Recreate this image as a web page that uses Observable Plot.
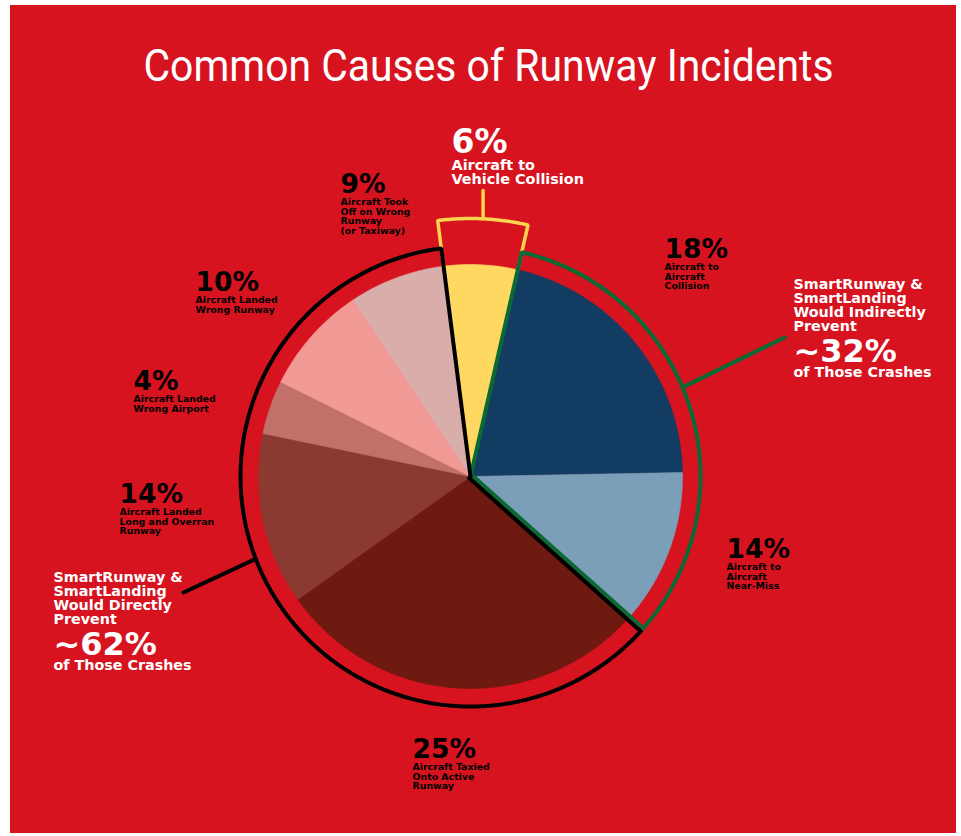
<!DOCTYPE html>
<html><head><meta charset="utf-8">
<script src="https://cdn.jsdelivr.net/npm/d3@7"></script>
<script src="https://cdn.jsdelivr.net/npm/@observablehq/plot@0.6"></script>
<style>
html,body{margin:0;padding:0;background:#fff;width:961px;height:836px;overflow:hidden}
#card{position:absolute;left:10px;top:5px;width:946px;height:828px;background:#D6131F}
#chart{position:absolute;left:0;top:0}
</style></head><body><div id="card"></div><div id="chart"></div>
<script>
// ---- data ----
const causes = ["Aircraft to Vehicle Collision","Aircraft to Aircraft Collision","Aircraft to Aircraft Near-Miss","Aircraft Taxied Onto Active Runway","Aircraft Landed Long and Overran Runway","Aircraft Landed Wrong Airport","Aircraft Landed Wrong Runway","Aircraft Took Off on Wrong Runway (or Taxiway)"];
const labelPercents = [6, 18, 14, 25, 14, 4, 10, 9];
const sliceShares = [5.6, 21.1, 11.9, 28.5, 13.1, 4.1, 8.3, 7.3]; // slice sizes as drawn in the picture
const labelLines = [["Aircraft to","Vehicle Collision"],["Aircraft to","Aircraft","Collision"],["Aircraft to","Aircraft","Near-Miss"],["Aircraft Taxied","Onto Active","Runway"],["Aircraft Landed","Long and Overran","Runway"],["Aircraft Landed","Wrong Airport"],["Aircraft Landed","Wrong Runway"],["Aircraft Took","Off on Wrong","Runway","(or Taxiway)"]];
const groupNames = ["Indirectly","Directly"];
const groupShares = [32, 62];
const titleText = "Common Causes of Runway Incidents";

// ---- style / layout ----
const sliceColors = ["#FFD862","#123C61","#7B9EB9","#6F1A10","#8A3A31","#C1716A","#F29A96","#D9ADAA"];
const WHITE="#fff", BLACK="#000", GREEN="#0B6A34", YEL="#FCD34D";
const CX=470, CY=476, R=212;
const ux = px => (px - CX)/R, uy = py => (CY - py)/R;
const rad = d => d*Math.PI/180;
const pol = (r, deg) => ({x: r*Math.sin(rad(deg)), y: r*Math.cos(rad(deg))});
const arc = (r, a0, a1, step=0.5) => { const n=Math.max(2,Math.ceil(Math.abs(a1-a0)/step)); return d3.range(n+1).map(i=>pol(r, a0+(a1-a0)*i/n)); };
const START = -7.3;
const labelPos = [[451,152],[664,257],[726,557],[412,757],[119,502],[133,389],[195,290],[340,192]];
const calloutPos = [[793,289],[53,582]];
const FONT = "'DejaVu Sans', Verdana, sans-serif";

// ---- geometry from data ----
const pie = d3.pie().sort(null).value(d=>d).startAngle(rad(START)).endAngle(rad(360+START))(sliceShares);
const deg = a => a*180/Math.PI;
const slicePts = pie.flatMap((p,i)=>[{x:0,y:0}, ...arc(1, deg(p.startAngle), deg(p.endAngle)), {x:0,y:0}].map(q=>({...q, name:causes[i]})));
const A = pie.map(p=>[deg(p.startAngle), deg(p.endAngle)]);
const aYelL = A[0][0], aYelR = A[0][1], aSplit = A[2][1];
const RING = 230/R, OUT = 258/R;
const off = (r, a, d) => { const p = pol(r,a), t = rad(a); return {x: p.x + d*Math.cos(t), y: p.y - d*Math.sin(t)}; };
const dOff = 2/R;
const greenPath = [off(0,aYelR,0), pol(RING,aYelR), ...arc(RING,aYelR,aSplit), off(RING,aSplit,-dOff), off(0,aSplit,-dOff)];
const blackPath = [off(0,aSplit,dOff), off(RING,aSplit,dOff), ...arc(RING,aSplit,aYelL+360), pol(0,aYelL)];
const yelPath = [pol(1,aYelL), pol(OUT,aYelL), ...arc(OUT,aYelL,aYelR), pol(OUT,aYelR), pol(1,aYelR)];
const midYel = (aYelL+aYelR)/2;
const stick = [pol(OUT,midYel), {x: pol(OUT,midYel).x, y: uy(190)}];
const leaderG = [pol(RING, 67.2), {x: ux(784), y: uy(337)}];
const leaderB = [pol(RING, 249), {x: ux(183), y: uy(592)}];

// text blocks: y given as first-line baseline, converted to a top anchor
const rows = [];
const addRow = (text, px, base, size, lh, color) => rows.push({text, x: ux(px), y: uy(base - 0.71*size), size, lh, color});
labelPercents.forEach((v,i)=>{
  const [px,base]=labelPos[i];
  if (i===0) {
    addRow(v+"%", px, base, 33, 1, WHITE);
    addRow(labelLines[i].join("\n"), px, base+17.5, 14.4, 1.0, WHITE);
  } else {
    addRow(v+"%", px, base, 26.5, 1, BLACK);
    addRow(labelLines[i].join("\n"), px, base+12.5, 9.4, 1.02, BLACK);
  }
});
groupNames.forEach((g,i)=>{
  const [px,base]=calloutPos[i];
  addRow(["SmartRunway &","SmartLanding","Would "+g,"Prevent"].join("\n"), px, base, 14.3, 0.98, WHITE);
  addRow("~"+groupShares[i]+"%", px, base+72, 32, 1, WHITE);
  addRow("of Those Crashes", px, base+87.5, 14.3, 1, WHITE);
});
const styles = [...new Set(rows.map(r=>r.size+"|"+r.lh))];

const chart = Plot.plot({
  width: 961, height: 836, margin: 0,
  x: {domain:[-1,1], range:[CX-R, CX+R], axis:null},
  y: {domain:[-1,1], range:[CY+R, CY-R], axis:null},
  color: {type:"ordinal", domain: causes, range: sliceColors},
  style: {background:"transparent", overflow:"visible"},
  marks: [
    Plot.line(slicePts, {x:"x", y:"y", z:"name", fill:"name", stroke:"name", strokeWidth:0.6, curve:"linear"}),
    Plot.line(yelPath, {x:"x", y:"y", stroke:YEL, strokeWidth:3.5, strokeLinejoin:"miter"}),
    Plot.line(stick, {x:"x", y:"y", stroke:YEL, strokeWidth:3.5}),
    Plot.line(greenPath, {x:"x", y:"y", stroke:GREEN, strokeWidth:4, strokeLinejoin:"miter"}),
    Plot.line(blackPath, {x:"x", y:"y", stroke:BLACK, strokeWidth:4, strokeLinejoin:"miter"}),
    Plot.line(leaderG, {x:"x", y:"y", stroke:GREEN, strokeWidth:4}),
    Plot.line(leaderB, {x:"x", y:"y", stroke:BLACK, strokeWidth:4}),
    ...styles.map(s => { const [size, lh] = s.split("|").map(Number); return Plot.text(rows.filter(r=>r.size===size && r.lh===lh), {x:"x", y:"y", text:"text", fill:"color", fontSize:size, lineHeight:lh, fontFamily:FONT, fontWeight:"bold", textAnchor:"start", lineAnchor:"top"}); }),
    Plot.text([titleText], {x: ux(488), y: uy(80 - 0.71*45), text: d=>d, fill:WHITE, fontSize:45, fontFamily:"Roboto, sans-serif", fontWeight:400, textAnchor:"middle", lineAnchor:"top", className:"title-text"})
  ]
});
const t = chart.querySelector(".title-text text");
if (t) { t.setAttribute("textLength", 690); t.setAttribute("lengthAdjust", "spacingAndGlyphs"); }
document.getElementById("chart").appendChild(chart);
</script></body></html>
